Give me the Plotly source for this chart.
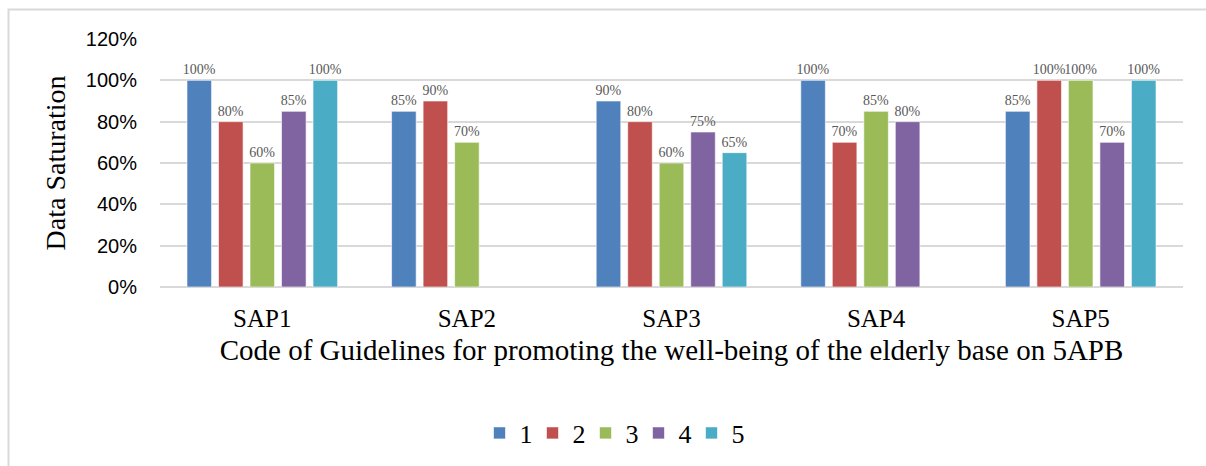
import plotly.graph_objects as go

categories = ["SAP1", "SAP2", "SAP3", "SAP4", "SAP5"]
series_names = ["1", "2", "3", "4", "5"]
s1 = [1.00, 0.85, 0.90, 1.00, 0.85]
s2 = [0.80, 0.90, 0.80, 0.70, 1.00]
s3 = [0.60, 0.70, 0.60, 0.85, 1.00]
s4 = [0.85, None, 0.75, 0.80, 0.70]
s5 = [1.00, None, 0.65, None, 1.00]
series_values = [s1, s2, s3, s4, s5]
colors = ["#4F81BD", "#C0504D", "#9BBB59", "#8064A2", "#4BACC6"]
y_ticks = [0, 0.2, 0.4, 0.6, 0.8, 1.0, 1.2]

W, H = 1206, 466
L, R, T, B = 160, 23, 39, 179
pw, ph = W - L - R, H - T - B

def px_x(x):
    return (x - L) / pw

def px_y(y):
    return (H - B - y) / ph

SERIF = "Liberation Serif"

fig = go.Figure()
for name, vals, col in zip(series_names, series_values, colors):
    fig.add_trace(go.Bar(
        x=categories, y=vals, name=name,
        marker=dict(color=col, line=dict(color="rgba(255,255,255,0.6)", width=1)),
        texttemplate="%{y:.0%}", textposition="outside",
        textfont=dict(family=SERIF, size=14, color="#595959"),
        constraintext="none", cliponaxis=False,
    ))

fig.update_layout(
    width=W, height=H,
    margin=dict(l=L, r=R, t=T, b=B, autoexpand=False),
    paper_bgcolor="white", plot_bgcolor="white",
    barmode="group", bargap=0.23, bargroupgap=0.22,
    showlegend=True,
    legend=dict(
        orientation="h", x=px_x(612), xanchor="center",
        y=px_y(433), yanchor="middle",
        font=dict(family=SERIF, size=26, color="#000000"),
        itemwidth=30, traceorder="normal",
        entrywidth=8, entrywidthmode="pixels",
    ),
    xaxis=dict(
        tickfont=dict(family=SERIF, size=25, color="#000000"),
        ticklabelstandoff=14,
        title=dict(text="Code of Guidelines for promoting the well-being of the elderly base on 5APB",
                   font=dict(family=SERIF, size=29, color="#000000"), standoff=8),
        showline=False, ticks="", showgrid=False,
    ),
    yaxis=dict(
        range=[0, 1.2], tickvals=y_ticks, tickformat=".0%",
        tickfont=dict(family="Liberation Sans", size=20, color="#000000"),
        ticklabelstandoff=22,
        gridcolor="#d9d9d9", gridwidth=1.5,
        zeroline=True, zerolinecolor="#d9d9d9", zerolinewidth=2,
        title=dict(text="Data Saturation", font=dict(family=SERIF, size=28, color="#000000"), standoff=12),
        showline=False, ticks="",
    ),
    shapes=[dict(
        type="rect", xref="paper", yref="paper",
        x0=px_x(8.5), x1=px_x(1240), y0=px_y(500), y1=px_y(9.5),
        line=dict(color="#d9d9d9", width=2), fillcolor="rgba(0,0,0,0)", layer="below",
    )],
)

fig.write_html("out.html")
